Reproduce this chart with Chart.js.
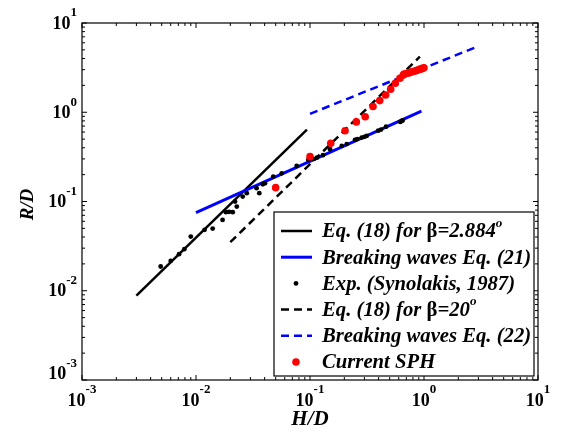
<!DOCTYPE html>
<html><head><meta charset="utf-8">
<script src="https://cdn.jsdelivr.net/npm/chart.js@4/dist/chart.umd.min.js"></script>
<style>html,body{margin:0;padding:0;background:#fff}</style>
</head><body>
<canvas id="c" width="567" height="432" style="width:567px;height:432px;display:block"></canvas>
<script>
// ---- data ----
const eq18Beta2884H = [0.003, 0.094];
const eq18Beta2884R = [0.0088, 0.64];
const eq21H = [0.01, 0.95];
const eq21R = [0.075, 1.03];
const eq18Beta20H = [0.02, 0.92];
const eq18Beta20R = [0.035, 4.2];
const eq22H = [0.1, 3.0];
const eq22R = [0.96, 5.5];
const expH = [0.0049, 0.0060, 0.0071, 0.0079, 0.0090, 0.0119, 0.0140, 0.0171, 0.0183, 0.0195, 0.0210, 0.0228, 0.0220, 0.0257, 0.0279, 0.0340, 0.0359, 0.0385, 0.0403, 0.0476, 0.0565, 0.0764, 0.0966, 0.107, 0.115, 0.13, 0.150, 0.190, 0.21, 0.248, 0.26, 0.284, 0.30, 0.314, 0.397, 0.42, 0.465, 0.62, 0.637, 0.65];
const expR = [0.0187, 0.0216, 0.0257, 0.0292, 0.0405, 0.0481, 0.0497, 0.0622, 0.0759, 0.0766, 0.0759, 0.0877, 0.0998, 0.1135, 0.124, 0.141, 0.124, 0.156, 0.160, 0.190, 0.207, 0.250, 0.292, 0.30, 0.31, 0.33, 0.385, 0.42, 0.44, 0.49, 0.50, 0.52, 0.53, 0.543, 0.622, 0.64, 0.69, 0.78, 0.80, 0.81];
const sphH = [0.05, 0.1, 0.152, 0.203, 0.255, 0.305, 0.357, 0.409, 0.461, 0.51, 0.56, 0.615, 0.66, 0.67, 0.70, 0.73, 0.76, 0.79, 0.82, 0.85, 0.88, 0.91, 0.94, 0.97, 1.0];
const sphR = [0.143, 0.318, 0.45, 0.62, 0.78, 0.89, 1.16, 1.35, 1.56, 1.81, 2.11, 2.40, 2.62, 2.68, 2.72, 2.76, 2.80, 2.84, 2.88, 2.92, 2.97, 3.01, 3.06, 3.10, 3.15];
const tickExponents = [-3, -2, -1, 0, 1];
const xTitle = 'H/D';
const yTitle = 'R/D';
const legendLabels = [
  [{t:'Eq. (18) for '}, {t:'β', up:true}, {t:'=2.884'}, {t:'o', sup:true}],
  [{t:'Breaking waves Eq. (21)'}],
  [{t:'Exp. (Synolakis, 1987)'}],
  [{t:'Eq. (18) for '}, {t:'β', up:true}, {t:'=20'}, {t:'o', sup:true}],
  [{t:'Breaking waves Eq. (22)'}],
  [{t:'Current SPH'}]
];

const pts = (xs, ys) => xs.map((x, i) => ({x, y: ys[i]}));

const datasets = [
  {label:'eq18a', data: pts(eq18Beta2884H, eq18Beta2884R), showLine:true, borderColor:'#000', borderWidth:2.5, pointRadius:0, order:6},
  {label:'eq21', data: pts(eq21H, eq21R), showLine:true, borderColor:'#0000ff', borderWidth:3, pointRadius:0, order:5},
  {label:'exp', data: pts(expH, expR), showLine:false, backgroundColor:'#000', borderColor:'#000', borderWidth:0, pointRadius:2.4, order:4},
  {label:'eq18b', data: pts(eq18Beta20H, eq18Beta20R), showLine:true, borderColor:'#000', borderWidth:2.5, borderDash:[8,5], pointRadius:0, order:3},
  {label:'eq22', data: pts(eq22H, eq22R), showLine:true, borderColor:'#0000ff', borderWidth:2.5, borderDash:[8,5], pointRadius:0, order:2},
  {label:'sph', data: pts(sphH, sphR), showLine:false, backgroundColor:'#ff0000', borderColor:'#ff0000', borderWidth:0, pointRadius:3.8, order:1}
];

const SERIF = '"Liberation Serif", "Times New Roman", serif';

function drawRich(ctx, segs, x, y, size) {
  let cx = x;
  for (const s of segs) {
    let f;
    if (s.sup) f = `bold italic ${Math.round(size*0.65)}px ${SERIF}`;
    else if (s.up) f = `bold ${size}px ${SERIF}`;
    else f = `bold italic ${size}px ${SERIF}`;
    ctx.font = f;
    ctx.fillText(s.t, cx, s.sup ? y - size*0.42 : y);
    cx += ctx.measureText(s.t).width;
  }
}

function drawPow(ctx, exp, x, y, mode, bottomLimit) {
  const bf = `bold 18px ${SERIF}`, sf = `bold 13px ${SERIF}`;
  ctx.font = bf; const wb = ctx.measureText('10').width;
  const es = exp < 0 ? '-' + Math.abs(exp) : String(exp);
  ctx.font = sf; const we = ctx.measureText(es).width;
  let left = mode === 'center' ? x - (wb + we) / 2 : x - (wb + we);
  let yc = y;
  if (bottomLimit !== undefined && yc + 6.5 > bottomLimit) yc = bottomLimit - 6.5;
  ctx.textBaseline = 'middle';
  ctx.font = bf; ctx.fillText('10', left, yc + 1);
  ctx.font = sf; ctx.fillText(es, left + wb, yc - 10);
}

const decor = {
  id: 'decor',
  afterDatasetsDraw(chart) {
    const ctx = chart.ctx, a = chart.chartArea, xs = chart.scales.x, ys = chart.scales.y;
    ctx.save();
    ctx.fillStyle = '#000'; ctx.strokeStyle = '#000';
    ctx.lineWidth = 1.2;
    ctx.strokeRect(a.left, a.top, a.right - a.left, a.bottom - a.top);
    ctx.lineWidth = 1;
    ctx.beginPath();
    for (let e = -3; e <= 1; e++) {
      for (let m = 1; m <= 9; m++) {
        const v = m * Math.pow(10, e);
        if (v > 10.0001) continue;
        const len = m === 1 ? 5 : 3;
        const px = xs.getPixelForValue(v), py = ys.getPixelForValue(v);
        ctx.moveTo(px, a.bottom); ctx.lineTo(px, a.bottom - len);
        ctx.moveTo(px, a.top); ctx.lineTo(px, a.top + len);
        ctx.moveTo(a.left, py); ctx.lineTo(a.left + len, py);
        ctx.moveTo(a.right, py); ctx.lineTo(a.right - len, py);
      }
    }
    ctx.stroke();
    ctx.textAlign = 'left';
    for (const e of tickExponents) {
      const v = Math.pow(10, e);
      drawPow(ctx, e, xs.getPixelForValue(v), a.bottom + 20, 'center');
      drawPow(ctx, e, a.left - 5, ys.getPixelForValue(v), 'right', a.bottom);
    }
    ctx.textAlign = 'center'; ctx.textBaseline = 'middle';
    ctx.font = `bold italic 21px ${SERIF}`;
    ctx.fillText(xTitle, (a.left + a.right) / 2, a.bottom + 40);
    ctx.save();
    ctx.translate(28, (a.top + a.bottom) / 2 + 3);
    ctx.rotate(-Math.PI / 2);
    ctx.font = `bold italic 19px ${SERIF}`;
    ctx.fillText(yTitle, 0, 0);
    ctx.restore();
    // legend
    const lx = 274, ly = 212, lw = 260, lh = 164;
    ctx.fillStyle = '#fff'; ctx.fillRect(lx, ly, lw, lh);
    ctx.strokeStyle = '#000'; ctx.lineWidth = 1.2; ctx.strokeRect(lx, ly, lw, lh);
    datasets.forEach((ds, i) => {
      const ry = 231 + i * 26.2;
      ctx.save();
      if (ds.showLine) {
        ctx.strokeStyle = ds.borderColor; ctx.lineWidth = ds.borderWidth;
        ctx.setLineDash(ds.borderDash || []);
        ctx.beginPath(); ctx.moveTo(281, ry); ctx.lineTo(312, ry); ctx.stroke();
      } else {
        ctx.fillStyle = ds.backgroundColor;
        ctx.beginPath(); ctx.arc(296, ry, ds.pointRadius, 0, Math.PI * 2); ctx.fill();
      }
      ctx.restore();
      ctx.fillStyle = '#000'; ctx.textAlign = 'left'; ctx.textBaseline = 'middle';
      drawRich(ctx, legendLabels[i], 322, ry + 1, 20.7);
    });
    ctx.restore();
  }
};

new Chart(document.getElementById('c'), {
  type: 'scatter',
  data: { datasets },
  options: {
    responsive: false,
    devicePixelRatio: 1,
    animation: false,
    layout: { padding: { left: 82, top: 23, right: 29, bottom: 52 } },
    plugins: { legend: { display: false }, tooltip: { enabled: false } },
    scales: {
      x: { type: 'logarithmic', min: 0.001, max: 10, display: false },
      y: { type: 'logarithmic', min: 0.001, max: 10, display: false }
    },
    elements: { line: { tension: 0 } }
  },
  plugins: [decor]
});
</script>
</body></html>
